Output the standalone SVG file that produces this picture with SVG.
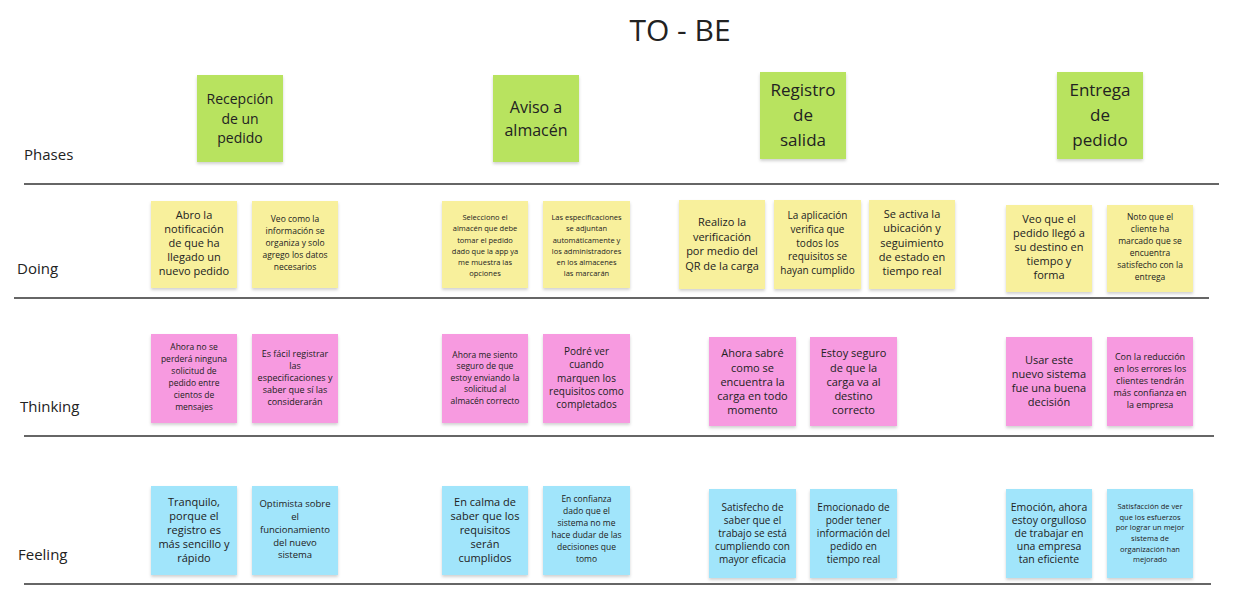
<svg xmlns="http://www.w3.org/2000/svg" width="1237" height="593" viewBox="0 0 1237 593">
<defs>
<filter id="sh" x="-10%" y="-10%" width="130%" height="130%"><feDropShadow dx="0" dy="2" stdDeviation="1.5" flood-color="#000" flood-opacity="0.18"/></filter>
<style>
text{font-family:"Open Sans","Noto Sans","Liberation Sans",sans-serif;fill:#222;}
.c{text-anchor:middle;}
.lbl{font-size:15px;}
.ttl{font-size:30px;text-anchor:middle;}
.g{fill:#b8e35e;filter:url(#sh);}
.y{fill:#f8f09c;filter:url(#sh);}
.p{fill:#f79ae0;filter:url(#sh);}
.b{fill:#a1e5fb;filter:url(#sh);}
.ln{stroke:#333;stroke-width:1.3;fill:none;}
</style>
</defs>
<rect width="1237" height="593" fill="#fff"/>
<text class="ttl" x="680" y="41">TO - BE</text>

<g id="connectors">
<line class="ln" x1="24" y1="184" x2="1219" y2="184"/>
<line class="ln" x1="14" y1="298" x2="1209" y2="298"/>
<line class="ln" x1="24" y1="436" x2="1214" y2="436"/>
<line class="ln" x1="24" y1="584" x2="1211" y2="584"/>
</g>

<g id="labels">
<text class="lbl" x="24" y="160">Phases</text>
<text class="lbl" x="17" y="274">Doing</text>
<text class="lbl" x="20" y="412">Thinking</text>
<text class="lbl" x="18" y="560">Feeling</text>
</g>

<!-- Phases -->
<g id="ph1"><rect class="g" x="197" y="75" width="86" height="87"/>
<text class="c" font-size="14"><tspan x="240" y="104">Recepción</tspan><tspan x="240" y="124">de un</tspan><tspan x="240" y="143">pedido</tspan></text></g>
<g id="ph2"><rect class="g" x="493" y="75" width="86" height="87"/>
<text class="c" font-size="16"><tspan x="536" y="113">Aviso a</tspan><tspan x="536" y="136">almacén</tspan></text></g>
<g id="ph3"><rect class="g" x="760" y="72" width="86" height="87"/>
<text class="c" font-size="17"><tspan x="803" y="96">Registro</tspan><tspan x="803" y="121">de</tspan><tspan x="803" y="146">salida</tspan></text></g>
<g id="ph4"><rect class="g" x="1057" y="72" width="86" height="87"/>
<text class="c" font-size="17"><tspan x="1100" y="96">Entrega</tspan><tspan x="1100" y="121">de</tspan><tspan x="1100" y="146">pedido</tspan></text></g>

<!-- Doing -->
<g id="d1"><rect class="y" x="151" y="201" width="86" height="87"/>
<text class="c" font-size="11"><tspan x="194" y="219">Abro la</tspan><tspan x="194" y="233">notificación</tspan><tspan x="194" y="247">de que ha</tspan><tspan x="194" y="261">llegado un</tspan><tspan x="194" y="275">nuevo pedido</tspan></text></g>
<g id="d2"><rect class="y" x="252" y="201" width="86" height="87"/>
<text class="c" font-size="8.5"><tspan x="295" y="222">Veo como la</tspan><tspan x="295" y="234">información se</tspan><tspan x="295" y="246">organiza y solo</tspan><tspan x="295" y="258">agrego los datos</tspan><tspan x="295" y="270">necesarios</tspan></text></g>
<g id="d3"><rect class="y" x="442" y="201" width="86" height="87"/>
<text class="c" font-size="7.5"><tspan x="485" y="220">Selecciono el</tspan><tspan x="485" y="231">almacén que debe</tspan><tspan x="485" y="243">tomar el pedido</tspan><tspan x="485" y="254">dado que la app ya</tspan><tspan x="485" y="265">me muestra las</tspan><tspan x="485" y="276">opciones</tspan></text></g>
<g id="d4"><rect class="y" x="543" y="201" width="87" height="87"/>
<text class="c" font-size="7.5"><tspan x="586.5" y="220">Las especificaciones</tspan><tspan x="586.5" y="231">se adjuntan</tspan><tspan x="586.5" y="243">automáticamente y</tspan><tspan x="586.5" y="254">los administradores</tspan><tspan x="586.5" y="265">en los almacenes</tspan><tspan x="586.5" y="276">las marcarán</tspan></text></g>
<g id="d5"><rect class="y" x="679" y="200" width="86" height="89"/>
<text class="c" font-size="11"><tspan x="722" y="226">Realizo la</tspan><tspan x="722" y="241">verificación</tspan><tspan x="722" y="255">por medio del</tspan><tspan x="722" y="270">QR de la carga</tspan></text></g>
<g id="d6"><rect class="y" x="774" y="200" width="87" height="89"/>
<text class="c" font-size="10"><tspan x="817.5" y="219">La aplicación</tspan><tspan x="817.5" y="233">verifica que</tspan><tspan x="817.5" y="247">todos los</tspan><tspan x="817.5" y="260">requisitos se</tspan><tspan x="817.5" y="274">hayan cumplido</tspan></text></g>
<g id="d7"><rect class="y" x="869" y="200" width="86" height="89"/>
<text class="c" font-size="11"><tspan x="912" y="218">Se activa la</tspan><tspan x="912" y="232">ubicación y</tspan><tspan x="912" y="247">seguimiento</tspan><tspan x="912" y="261">de estado en</tspan><tspan x="912" y="275">tiempo real</tspan></text></g>
<g id="d8"><rect class="y" x="1006" y="205" width="86" height="87"/>
<text class="c" font-size="11"><tspan x="1049" y="223">Veo que el</tspan><tspan x="1049" y="237">pedido llegó a</tspan><tspan x="1049" y="251">su destino en</tspan><tspan x="1049" y="265">tiempo y</tspan><tspan x="1049" y="279">forma</tspan></text></g>
<g id="d9"><rect class="y" x="1107" y="205" width="86" height="87"/>
<text class="c" font-size="8.5"><tspan x="1150" y="220">Noto que el</tspan><tspan x="1150" y="232">cliente ha</tspan><tspan x="1150" y="244">marcado que se</tspan><tspan x="1150" y="256">encuentra</tspan><tspan x="1150" y="268">satisfecho con la</tspan><tspan x="1150" y="280">entrega</tspan></text></g>

<!-- Thinking -->
<g id="t1"><rect class="p" x="151" y="334" width="86" height="89"/>
<text class="c" font-size="8.5"><tspan x="194" y="350">Ahora no se</tspan><tspan x="194" y="362">perderá ninguna</tspan><tspan x="194" y="374">solicitud de</tspan><tspan x="194" y="386">pedido entre</tspan><tspan x="194" y="398">cientos de</tspan><tspan x="194" y="410">mensajes</tspan></text></g>
<g id="t2"><rect class="p" x="252" y="334" width="86" height="89"/>
<text class="c" font-size="9"><tspan x="295" y="357">Es fácil registrar</tspan><tspan x="295" y="369">las</tspan><tspan x="295" y="381">especificaciones y</tspan><tspan x="295" y="393">saber que sí las</tspan><tspan x="295" y="405">considerarán</tspan></text></g>
<g id="t3"><rect class="p" x="442" y="334" width="86" height="89"/>
<text class="c" font-size="8.5"><tspan x="485" y="358">Ahora me siento</tspan><tspan x="485" y="369">seguro de que</tspan><tspan x="485" y="381">estoy enviando la</tspan><tspan x="485" y="392">solicitud al</tspan><tspan x="485" y="404">almacén correcto</tspan></text></g>
<g id="t4"><rect class="p" x="543" y="334" width="87" height="89"/>
<text class="c" font-size="10"><tspan x="586.5" y="355">Podré ver</tspan><tspan x="586.5" y="368">cuando</tspan><tspan x="586.5" y="382">marquen los</tspan><tspan x="586.5" y="395">requisitos como</tspan><tspan x="586.5" y="408">completados</tspan></text></g>
<g id="t5"><rect class="p" x="709" y="337" width="87" height="89"/>
<text class="c" font-size="11"><tspan x="752.5" y="357">Ahora sabré</tspan><tspan x="752.5" y="372">como se</tspan><tspan x="752.5" y="386">encuentra la</tspan><tspan x="752.5" y="400">carga en todo</tspan><tspan x="752.5" y="414">momento</tspan></text></g>
<g id="t6"><rect class="p" x="810" y="337" width="87" height="89"/>
<text class="c" font-size="11"><tspan x="853.5" y="357">Estoy seguro</tspan><tspan x="853.5" y="372">de que la</tspan><tspan x="853.5" y="386">carga va al</tspan><tspan x="853.5" y="400">destino</tspan><tspan x="853.5" y="414">correcto</tspan></text></g>
<g id="t7"><rect class="p" x="1006" y="337" width="86" height="89"/>
<text class="c" font-size="11"><tspan x="1049" y="364">Usar este</tspan><tspan x="1049" y="378">nuevo sistema</tspan><tspan x="1049" y="392">fue una buena</tspan><tspan x="1049" y="406">decisión</tspan></text></g>
<g id="t8"><rect class="p" x="1107" y="337" width="86" height="89"/>
<text class="c" font-size="9"><tspan x="1150" y="360">Con la reducción</tspan><tspan x="1150" y="372">en los errores los</tspan><tspan x="1150" y="384">clientes tendrán</tspan><tspan x="1150" y="396">más confianza en</tspan><tspan x="1150" y="408">la empresa</tspan></text></g>

<!-- Feeling -->
<g id="f1"><rect class="b" x="151" y="486" width="86" height="89"/>
<text class="c" font-size="11"><tspan x="194" y="506">Tranquilo,</tspan><tspan x="194" y="520">porque el</tspan><tspan x="194" y="534">registro es</tspan><tspan x="194" y="548">más sencillo y</tspan><tspan x="194" y="562">rápido</tspan></text></g>
<g id="f2"><rect class="b" x="252" y="486" width="86" height="89"/>
<text class="c" font-size="9.5"><tspan x="295" y="507">Optimista sobre</tspan><tspan x="295" y="520">el</tspan><tspan x="295" y="533">funcionamiento</tspan><tspan x="295" y="546">del nuevo</tspan><tspan x="295" y="558">sistema</tspan></text></g>
<g id="f3"><rect class="b" x="442" y="486" width="86" height="89"/>
<text class="c" font-size="11"><tspan x="485" y="506">En calma de</tspan><tspan x="485" y="520">saber que los</tspan><tspan x="485" y="534">requisitos</tspan><tspan x="485" y="548">serán</tspan><tspan x="485" y="562">cumplidos</tspan></text></g>
<g id="f4"><rect class="b" x="543" y="486" width="87" height="89"/>
<text class="c" font-size="8.5"><tspan x="586.5" y="502">En confianza</tspan><tspan x="586.5" y="514">dado que el</tspan><tspan x="586.5" y="526">sistema no me</tspan><tspan x="586.5" y="538">hace dudar de las</tspan><tspan x="586.5" y="550">decisiones que</tspan><tspan x="586.5" y="562">tomo</tspan></text></g>
<g id="f5"><rect class="b" x="709" y="489" width="87" height="89"/>
<text class="c" font-size="10"><tspan x="752.5" y="511">Satisfecho de</tspan><tspan x="752.5" y="524">saber que el</tspan><tspan x="752.5" y="537">trabajo se está</tspan><tspan x="752.5" y="550">cumpliendo con</tspan><tspan x="752.5" y="563">mayor eficacia</tspan></text></g>
<g id="f6"><rect class="b" x="810" y="489" width="87" height="89"/>
<text class="c" font-size="10"><tspan x="853.5" y="511">Emocionado de</tspan><tspan x="853.5" y="524">poder tener</tspan><tspan x="853.5" y="537">información del</tspan><tspan x="853.5" y="550">pedido en</tspan><tspan x="853.5" y="563">tiempo real</tspan></text></g>
<g id="f7"><rect class="b" x="1006" y="489" width="86" height="89"/>
<text class="c" font-size="10.5"><tspan x="1049" y="511">Emoción, ahora</tspan><tspan x="1049" y="524">estoy orgulloso</tspan><tspan x="1049" y="537">de trabajar en</tspan><tspan x="1049" y="550">una empresa</tspan><tspan x="1049" y="563">tan eficiente</tspan></text></g>
<g id="f8"><rect class="b" x="1107" y="489" width="86" height="89"/>
<text class="c" font-size="7.5"><tspan x="1150" y="509">Satisfacción de ver</tspan><tspan x="1150" y="520">que los esfuerzos</tspan><tspan x="1150" y="530">por lograr un mejor</tspan><tspan x="1150" y="541">sistema de</tspan><tspan x="1150" y="552">organización han</tspan><tspan x="1150" y="562">mejorado</tspan></text></g>
</svg>
